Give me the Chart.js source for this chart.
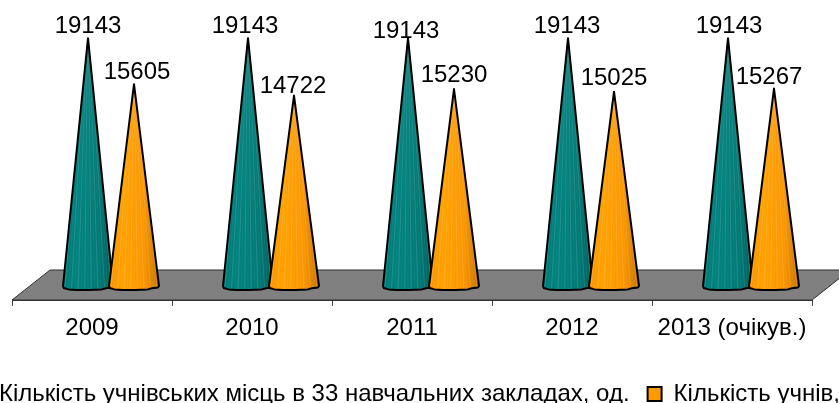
<!DOCTYPE html>
<html><head><meta charset="utf-8">
<style>html,body{margin:0;padding:0;overflow:hidden;background:#fff;width:839px;height:403px}
#w{position:absolute;left:-73px;top:0;width:1010px;height:416px}</style>
<script src="https://cdn.jsdelivr.net/npm/chart.js@4"></script></head>
<body><div id="w"><canvas id="c"></canvas></div>
<script>
const categories = ["2009","2010","2011","2012","2013 (очікув.)"];
const seatsLabel = "Кількість учнівських місць в 33 навчальних закладах, од.";
const pupilsLabel = "Кількість учнів, осіб";
const seats = [19143,19143,19143,19143,19143];
const pupils = [15605,14722,15230,15025,15267];
const FONT = '"Liberation Sans", Arial, sans-serif';
const DEPTH_X = 38, DEPTH_Y = 30, SHIFT_X = 19;
const labelNudgeSeats = [[0,0],[-3,0],[-2,5],[-1,0],[1,0]];
const labelNudgePupils = [[3,0],[-1,2],[0,-2],[0,-2],[-5,0]];

function shade(rgb,t){ return 'rgb('+rgb.map(v=>Math.round(Math.max(0,Math.min(255,v*t)))).join(',')+')'; }

const conePlugin = {
  id:'cones',
  beforeDatasetsDraw(chart){
    const {ctx,chartArea:a}=chart;
    ctx.save();
    ctx.beginPath();
    ctx.moveTo(a.left,a.bottom);
    ctx.lineTo(a.left+DEPTH_X,a.bottom-DEPTH_Y);
    ctx.lineTo(a.right+DEPTH_X,a.bottom-DEPTH_Y);
    ctx.lineTo(a.right,a.bottom);
    ctx.closePath();
    ctx.fillStyle='#808080';ctx.fill();
    ctx.strokeStyle='#303030';ctx.lineWidth=1;ctx.stroke();
    ctx.restore();
  },
  afterDatasetsDraw(chart){
    const {ctx}=chart;
    const profile=[[-1,0],[-.97,.5],[-.78,.85],[-.45,1],[.05,1],[.55,.85],[.72,.55],[.95,.4],[1,0]];
    const cols=[[0,124,120],[255,153,0]];
    [0,1].forEach(di=>{
      const meta=chart.getDatasetMeta(di);
      meta.data.forEach((el,i)=>{
        const cx=el.x+SHIFT_X, top=el.y, base=el.base, r=el.width/2+2;
        const pts=profile.map(p=>[cx+p[0]*r, base+p[1]*4-1]);
        ctx.save();
        ctx.beginPath();
        ctx.moveTo(cx,top);
        pts.forEach(p=>ctx.lineTo(p[0],p[1]));
        ctx.closePath();
        const g=ctx.createLinearGradient(cx-r,0,cx+r,0);
        g.addColorStop(0,shade(cols[di],.98));
        g.addColorStop(.3,shade(cols[di],1.05));
        g.addColorStop(.7,shade(cols[di],.98));
        g.addColorStop(1,shade(cols[di],.78));
        ctx.fillStyle=g;ctx.fill();
        ctx.clip();
        ctx.lineWidth=.9;
        for(let k=-7;k<=7;k++){
          ctx.beginPath();ctx.moveTo(cx+k/7.5*r*.15,top);ctx.lineTo(cx+k/7.5*r,base+5);
          ctx.strokeStyle='rgba(255,255,255,'+(k%2?.16:.06)+')';ctx.stroke();
        }
        ctx.restore();
        ctx.save();
        ctx.beginPath();
        ctx.moveTo(cx,top);
        pts.forEach(p=>ctx.lineTo(p[0],p[1]));
        ctx.closePath();
        ctx.lineJoin='round';ctx.lineWidth=2;ctx.strokeStyle='#000';ctx.stroke();
        ctx.restore();
        const n=(di?labelNudgePupils:labelNudgeSeats)[i];
        ctx.save();
        ctx.font='24px '+FONT;ctx.fillStyle='#000';ctx.textAlign='center';ctx.textBaseline='alphabetic';
        ctx.fillText(String(chart.data.datasets[di].data[i]),cx+n[0],top-5+n[1]);
        ctx.restore();
      });
    });
  }
};

new Chart(document.getElementById('c'),{
  type:'bar',
  data:{labels:categories,datasets:[
    {label:seatsLabel,data:seats,backgroundColor:'rgba(0,0,0,0)',borderWidth:0,legendFill:'#007c78'},
    {label:pupilsLabel,data:pupils,backgroundColor:'rgba(0,0,0,0)',borderWidth:0,legendFill:'#ff9900'}
  ]},
  options:{
    responsive:true,maintainAspectRatio:false,animation:false,
    categoryPercentage:.575,barPercentage:1,
    layout:{padding:{left:0,right:0,top:14,bottom:0}},
    plugins:{tooltip:{enabled:false},
      legend:{position:'bottom',labels:{
        font:{family:FONT,size:24},color:'#000',boxWidth:14,boxHeight:14,padding:18,
        generateLabels(chart){return chart.data.datasets.map((d,i)=>({text:d.label,fillStyle:d.legendFill,strokeStyle:'#000',lineWidth:2,datasetIndex:i,fontColor:'#000'}));}
      }}},
    scales:{
      x:{grid:{drawOnChartArea:false,drawTicks:true,tickLength:6,color:'#404040',offset:true},
         border:{color:'#303030',width:1},
         ticks:{font:{family:FONT,size:24},color:'#000',padding:8,maxRotation:0,autoSkip:false},
         afterFit(s){s.height=64;}},
      y:{position:'left',min:-1000,max:21000,grid:{display:false},border:{display:false},ticks:{display:false},afterFit(s){s.width=85;}},
      y2:{position:'right',min:-1000,max:21000,grid:{display:false},border:{display:false},ticks:{display:false},afterFit(s){s.width=125;}}
    }
  },
  plugins:[conePlugin]
});
</script></body></html>
